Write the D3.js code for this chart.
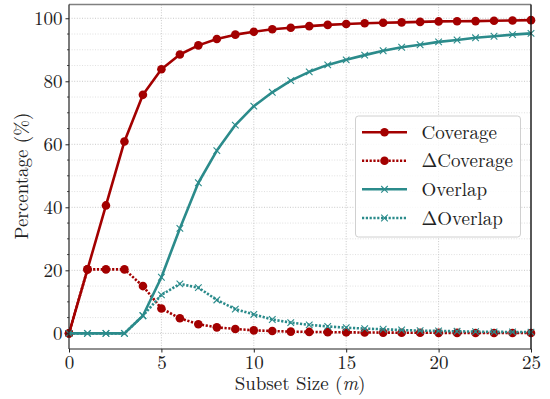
<!DOCTYPE html>
<html>
<head>
<meta charset="utf-8">
<script src="https://cdn.jsdelivr.net/npm/d3@7"></script>
</head>
<body style="margin:0;background:#fff">
<div id="chart"></div>
<script>
// subset sizes 0..25
let sizes = d3.range(0, 26);

let coverage = [0, 20.3, 40.6, 60.9, 75.7, 83.8, 88.5, 91.4, 93.4, 94.8, 95.7, 96.5, 97.0, 97.5, 97.9,
                98.2, 98.4, 98.6, 98.7, 98.85, 99.0, 99.05, 99.1, 99.2, 99.3, 99.4];
let deltaCoverage = [0, 20.3, 20.3, 20.3, 15.0, 7.9, 4.8, 2.9, 1.9, 1.4, 0.95, 0.73, 0.55, 0.45, 0.38,
                     0.32, 0.27, 0.23, 0.2, 0.18, 0.16, 0.14, 0.12, 0.11, 0.1, 0.09];
let overlap = [0, 0, 0, 0, 5.6, 17.8, 33.3, 47.8, 58.0, 66.1, 72.1, 76.5, 80.2, 83.0, 85.2,
               86.8, 88.3, 89.7, 90.8, 91.6, 92.5, 93.1, 93.8, 94.3, 94.8, 95.2];
let deltaOverlap = [0, 0, 0, 0, 5.6, 12.2, 15.7, 14.5, 10.6, 7.7, 6.0, 4.4, 3.4, 2.7, 2.2,
                    1.8, 1.5, 1.3, 1.05, 0.85, 0.75, 0.65, 0.55, 0.47, 0.43, 0.4];

let xTicks = [0, 5, 10, 15, 20, 25];
let yTicks = [0, 20, 40, 60, 80, 100];
let yMinor = [5, 10, 15, 25, 30, 35, 45, 50, 55, 65, 70, 75, 85, 90, 95];

let red = '#a30000';
let teal = '#2b8b8b';
let serif = '"Latin Modern Roman", "CMU Serif", "Liberation Serif", serif';
let fontSize = 19;

let series = [
  {name: 'ΔCoverage', values: deltaCoverage, color: red, dotted: true, marker: 'dot'},
  {name: 'ΔOverlap', values: deltaOverlap, color: teal, dotted: true, marker: 'x'},
  {name: 'Coverage', values: coverage, color: red, dotted: false, marker: 'dot'},
  {name: 'Overlap', values: overlap, color: teal, dotted: false, marker: 'x'}
];
let legendOrder = ['Coverage', 'ΔCoverage', 'Overlap', 'ΔOverlap'];

let dim = {'width': 550, 'height': 399};
let plot = {left: 69, right: 531, top: 4.5, bottom: 349};

let svg = d3.select('#chart').append('svg')
    .attr('width', dim.width)
    .attr('height', dim.height);

// auto margins like matplotlib (5%)
let allVals = series.flatMap(s => s.values);
let yMin = d3.min(allVals), yMax = d3.max(allVals);
let pad = (yMax - yMin) * 0.05;

let scaleX = d3.scaleLinear().domain([0, 25]).range([plot.left, plot.right]);
let scaleY = d3.scaleLinear().domain([yMin - pad, yMax + pad]).range([plot.bottom, plot.top]);

// grid
let grid = svg.append('g');
grid.selectAll('.ymin').data(yMinor).join('line')
    .attr('x1', plot.left).attr('x2', plot.right)
    .attr('y1', d => scaleY(d)).attr('y2', d => scaleY(d))
    .attr('stroke', '#d8d8d8').attr('stroke-width', 0.8).attr('stroke-dasharray', '1,1.6');
grid.selectAll('.ymaj').data(yTicks).join('line')
    .attr('x1', plot.left).attr('x2', plot.right)
    .attr('y1', d => scaleY(d)).attr('y2', d => scaleY(d))
    .attr('stroke', '#c8c8c8').attr('stroke-width', 1).attr('stroke-dasharray', '1,1.6');
grid.selectAll('.xmaj').data(xTicks.slice(1, -1)).join('line')
    .attr('y1', plot.top).attr('y2', plot.bottom)
    .attr('x1', d => scaleX(d)).attr('x2', d => scaleX(d))
    .attr('stroke', '#c8c8c8').attr('stroke-width', 1).attr('stroke-dasharray', '1,1.6');

// lines
let line = d3.line().x((d, i) => scaleX(sizes[i])).y(d => scaleY(d));

series.forEach(s => {
  svg.append('path')
     .attr('d', line(s.values))
     .attr('fill', 'none')
     .attr('stroke', s.color)
     .attr('stroke-width', 2.6)
     .attr('stroke-linejoin', 'round')
     .attr('stroke-dasharray', s.dotted ? '2.2,1.6' : null);
  drawMarkers(svg, s, s.values.map((v, i) => [scaleX(sizes[i]), scaleY(v)]));
});

function drawMarkers(g, s, pts) {
  if (s.marker === 'dot') {
    g.append('g').selectAll('circle').data(pts).join('circle')
     .attr('cx', d => d[0]).attr('cy', d => d[1]).attr('r', 4.3)
     .attr('fill', s.color);
  } else {
    let r = 3.3;
    g.append('g').selectAll('path').data(pts).join('path')
     .attr('d', d => `M${d[0]-r},${d[1]-r}L${d[0]+r},${d[1]+r}M${d[0]-r},${d[1]+r}L${d[0]+r},${d[1]-r}`)
     .attr('stroke', s.color).attr('stroke-width', 1.1).attr('fill', 'none');
  }
}

// axes
let axisX = svg.append('g')
    .attr('transform', `translate(0,${plot.bottom})`)
    .call(d3.axisBottom(scaleX).tickValues(xTicks).tickSize(3.5).tickPadding(2.5));
let axisY = svg.append('g')
    .attr('transform', `translate(${plot.left},0)`)
    .call(d3.axisLeft(scaleY).tickValues(yTicks).tickSize(3.5).tickPadding(3));
svg.append('g').selectAll('line').data(yMinor).join('line')
    .attr('x1', plot.left - 2).attr('x2', plot.left)
    .attr('y1', d => scaleY(d)).attr('y2', d => scaleY(d))
    .attr('stroke', '#222').attr('stroke-width', 0.8);

[axisX, axisY].forEach(a => {
  a.select('.domain').remove();
  a.selectAll('line').attr('stroke', '#222').attr('stroke-width', 1);
  a.selectAll('text').attr('fill', '#222')
   .style('font-family', serif).style('font-size', fontSize + 'px');
});

// spines
svg.append('line').attr('x1', plot.left).attr('x2', plot.right).attr('y1', plot.top).attr('y2', plot.top)
   .attr('stroke', '#808080').attr('stroke-width', 1.6);
svg.append('line').attr('x1', plot.left).attr('x2', plot.right).attr('y1', plot.bottom).attr('y2', plot.bottom)
   .attr('stroke', '#222').attr('stroke-width', 1.2);
svg.append('line').attr('x1', plot.left).attr('x2', plot.left).attr('y1', plot.top).attr('y2', plot.bottom)
   .attr('stroke', '#222').attr('stroke-width', 1.2);
svg.append('line').attr('x1', plot.right).attr('x2', plot.right).attr('y1', plot.top).attr('y2', plot.bottom)
   .attr('stroke', '#111').attr('stroke-width', 1.4);

// axis labels
let xl = svg.append('text')
    .attr('x', 300).attr('y', 390)
    .attr('text-anchor', 'middle').attr('fill', '#222')
    .style('font-family', serif).style('font-size', fontSize + 'px');
xl.append('tspan').text('Subset Size (');
xl.append('tspan').style('font-style', 'italic').text('m');
xl.append('tspan').text(')');

svg.append('text')
    .attr('transform', 'translate(28,176) rotate(-90)')
    .attr('text-anchor', 'middle').attr('fill', '#222')
    .style('font-family', serif).style('font-size', fontSize + 'px')
    .text('Percentage (%)');

// legend
let legend = svg.append('g');
legend.append('rect')
    .attr('x', 355.5).attr('y', 116).attr('width', 165).attr('height', 121)
    .attr('rx', 3).attr('fill', 'white').attr('fill-opacity', 0.85)
    .attr('stroke', '#d0d0d0').attr('stroke-width', 1);

let rowY = [132.3, 160.7, 189.3, 218];
legendOrder.forEach((name, i) => {
  let s = series.find(d => d.name === name);
  let y = rowY[i];
  legend.append('line')
     .attr('x1', 362).attr('x2', 407).attr('y1', y).attr('y2', y)
     .attr('stroke', s.color).attr('stroke-width', 2.6)
     .attr('stroke-dasharray', s.dotted ? '2.2,1.6' : null);
  drawMarkers(legend, s, [[384.5, y]]);
  legend.append('text')
     .attr('x', 421.5).attr('y', y + 6.5)
     .attr('fill', '#222')
     .style('font-family', serif).style('font-size', fontSize + 'px')
     .text(s.name);
});
</script>
</body>
</html>
